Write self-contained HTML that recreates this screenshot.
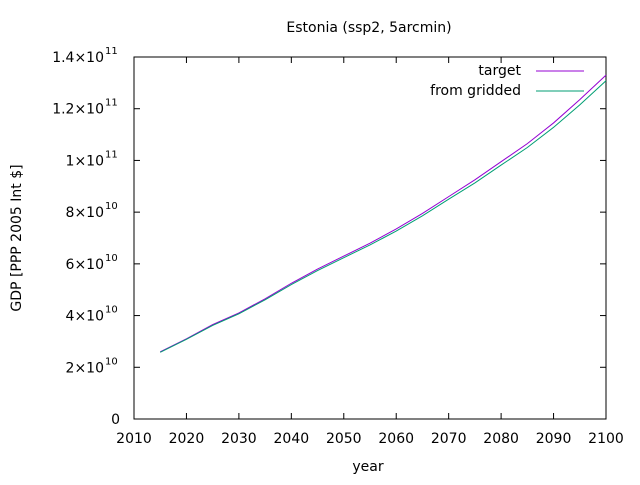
<!DOCTYPE html>
<html><head><meta charset="utf-8"><style>
body{margin:0;background:#fff}
svg{font-family:"DejaVu Sans","Liberation Sans",sans-serif;font-size:14px}
</style></head><body>
<svg id="chart" width="640" height="480" viewBox="0 0 640 480" xmlns="http://www.w3.org/2000/svg">
<text x="369" y="32" text-anchor="middle">Estonia (ssp2, 5arcmin)</text>
<text x="368" y="471" text-anchor="middle">year</text>
<text transform="translate(21,238) rotate(-90)" text-anchor="middle">GDP [PPP 2005 Int $]</text>
<g id="axes"></g>
<g id="series"></g>
<g>
<text x="521" y="75" text-anchor="end">target</text>
<line x1="536" y1="71" x2="584" y2="71" stroke="#9400d3" stroke-width="1"/>
<text x="521" y="95" text-anchor="end">from gridded</text>
<line x1="536" y1="91" x2="584" y2="91" stroke="#009e73" stroke-width="1"/>
</g>
</svg>
<script>
const years=[2015,2020,2025,2030,2035,2040,2045,2050,2055,2060,2065,2070,2075,2080,2085,2090,2095,2100];
const targetVals=[2.6,3.1,3.65,4.1,4.65,5.25,5.8,6.3,6.8,7.35,7.95,8.6,9.25,9.95,10.65,11.45,12.35,13.3];
const griddedVals=[2.58,3.08,3.62,4.07,4.61,5.2,5.74,6.24,6.73,7.27,7.86,8.5,9.13,9.82,10.5,11.28,12.15,13.08];
const xTicks=[2010,2020,2030,2040,2050,2060,2070,2080,2090,2100];
const yTicks=[0,2,4,6,8,10,12,14];
const yTickLabels=["0","2×10","4×10","6×10","8×10","1×10","1.2×10","1.4×10"];
const yTickExp=["","10","10","10","10","11","11","11"];
const L=134,R=606,T=57,B=419;
const X=v=>L+(v-2010)/90*(R-L);
const Y=v=>B-v/14*(B-T);
const ns="http://www.w3.org/2000/svg";
const ax=document.getElementById('axes');
function mk(t,a,p){const e=document.createElementNS(ns,t);for(const k in a)e.setAttribute(k,a[k]);p.appendChild(e);return e;}
const fr=mk('rect',{x:L,y:T,width:R-L,height:B-T,fill:'none',stroke:'#000','stroke-width':1},ax);


xTicks.forEach(v=>{const x=X(v);
mk('line',{x1:x,y1:B,x2:x,y2:B-6,stroke:'#000'},ax);
mk('line',{x1:x,y1:T,x2:x,y2:T+6,stroke:'#000'},ax);
const t=mk('text',{x:x,y:B+24,'text-anchor':'middle'},ax);t.textContent=v;

});
yTicks.forEach((v,i)=>{const y=Y(v);
mk('line',{x1:L,y1:y,x2:L+6,y2:y,stroke:'#000'},ax);
mk('line',{x1:R,y1:y,x2:R-6,y2:y,stroke:'#000'},ax);
const t=mk('text',{x:yTickExp[i]?104:120,y:y+5,'text-anchor':'end'},ax);t.textContent=yTickLabels[i];


if(yTickExp[i]){const s=mk('text',{x:105,y:y-3,'font-size':'10px'},ax);s.textContent=yTickExp[i];

}});
const sg=document.getElementById('series');
[[targetVals,'#9400d3','line-target'],[griddedVals,'#009e73','line-gridded']].forEach(([d,c,n])=>{
const p=mk('polyline',{points:years.map((yr,i)=>X(yr)+','+Y(d[i])).join(' '),fill:'none',stroke:c,'stroke-width':1},sg);

});
</script>
</body></html>
